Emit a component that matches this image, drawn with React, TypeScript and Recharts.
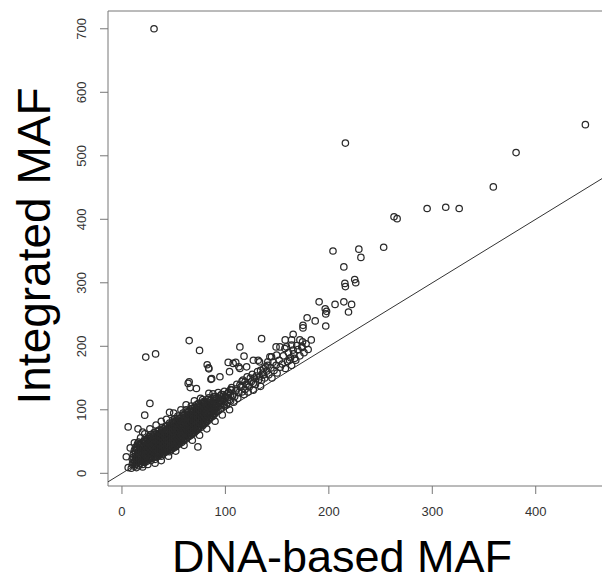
import { ScatterChart, Scatter, XAxis, YAxis, ReferenceLine, ReferenceArea, Label } from 'recharts';

// [DNA-based MAF, Integrated MAF]
const denseCore: [number, number][] = [
    [10, 14], [10, 22], [11, 30],
    [12, 11], [12, 19], [13, 27], [12, 36],
    [14, 15], [14, 22], [15, 29], [14, 38], [15, 46],
    [16, 12], [17, 19], [16, 26], [16, 33], [17, 41], [16, 49],
    [18, 16], [18, 24], [19, 30], [18, 37], [18, 44],
    [20, 14], [20, 21], [21, 28], [20, 35], [20, 42], [21, 50],
    [22, 17], [23, 25], [22, 31], [22, 38], [23, 45], [22, 53],
    [24, 19], [24, 27], [25, 34], [24, 40], [24, 47], [25, 55],
    [26, 22], [27, 29], [26, 36], [26, 43], [27, 50], [26, 58],
    [28, 20], [28, 27], [29, 33], [28, 39], [28, 46], [29, 53], [28, 61],
    [30, 24], [31, 30], [30, 37], [30, 43], [31, 50], [30, 57], [31, 64],
    [32, 22], [33, 29], [32, 35], [32, 42], [33, 48], [32, 55], [33, 62],
    [34, 26], [34, 33], [35, 39], [34, 45], [34, 52], [35, 59], [34, 66],
    [36, 28], [37, 35], [36, 41], [36, 47], [37, 54], [36, 61], [36, 68],
    [38, 27], [38, 33], [39, 40], [38, 46], [38, 52], [39, 58], [38, 65], [39, 72],
    [40, 31], [41, 37], [40, 44], [40, 50], [41, 56], [40, 63], [40, 70],
    [42, 33], [42, 39], [43, 46], [42, 52], [42, 58], [43, 65], [42, 73],
    [44, 35], [45, 42], [44, 48], [44, 54], [45, 60], [44, 67], [44, 75],
    [46, 34], [46, 41], [47, 47], [46, 53], [46, 59], [47, 66], [46, 72], [46, 79],
    [48, 38], [49, 44], [48, 50], [48, 56], [49, 63], [48, 69], [48, 76], [49, 84],
    [50, 40], [50, 46], [51, 52], [50, 58], [50, 64], [51, 71], [50, 78], [51, 86],
    [52, 42], [53, 48], [52, 55], [52, 61], [53, 67], [52, 74], [52, 81],
    [54, 45], [54, 51], [55, 57], [54, 63], [54, 70], [55, 77], [54, 84], [54, 90],
    [56, 47], [57, 53], [56, 59], [56, 66], [57, 72], [56, 79], [56, 86],
    [58, 49], [58, 55], [59, 62], [58, 68], [58, 74], [59, 81], [58, 88], [59, 95],
    [60, 52], [61, 58], [60, 64], [60, 70], [61, 77], [60, 84], [60, 91],
    [62, 54], [62, 60], [63, 66], [62, 73], [62, 79], [63, 86], [62, 93], [62, 100],
    [64, 57], [65, 63], [64, 69], [64, 75], [65, 82], [64, 89], [64, 96],
    [66, 59], [66, 65], [67, 72], [66, 78], [66, 85], [67, 92], [66, 99], [67, 106],
    [68, 62], [69, 68], [68, 74], [68, 81], [69, 88], [68, 95], [68, 102],
    [70, 64], [70, 71], [71, 77], [70, 84], [70, 90], [71, 97], [70, 104],
    [72, 67], [73, 73], [72, 80], [72, 86], [73, 93], [72, 100], [72, 108],
    [74, 70], [74, 76], [75, 83], [74, 89], [74, 96], [75, 103], [74, 110],
    [76, 72], [77, 79], [76, 85], [76, 92], [77, 99], [76, 106],
    [78, 75], [78, 82], [79, 88], [78, 95], [78, 102], [79, 109], [78, 116],
    [80, 78], [81, 84], [80, 91], [80, 98], [81, 105], [80, 112],
    [82, 81], [82, 88], [83, 94], [82, 101], [82, 108], [83, 116],
    [84, 84], [85, 91], [84, 98], [84, 104], [85, 111], [84, 119],
    [86, 88], [86, 95], [87, 101], [86, 108], [86, 115],
    [88, 90], [89, 97], [88, 104], [88, 111], [89, 118], [88, 125],
    [90, 94], [90, 101], [91, 107], [90, 114], [90, 121],
    [93, 98], [93, 105], [94, 112], [93, 119], [93, 127],
    [96, 103], [96, 110], [97, 117], [96, 124],
    [99, 106], [99, 113], [100, 121], [99, 129],
    [102, 111], [102, 119], [103, 127],
    [105, 114], [105, 123], [106, 131],
];

// second layer of the dense band, between the columns above
const denseCoreFill: [number, number][] = [
    [11, 17], [11, 25],
    [13, 14], [13, 23], [13, 32], [13, 41],
    [15, 18], [15, 26], [15, 34], [15, 42],
    [17, 15], [17, 23], [17, 30], [17, 37], [17, 46],
    [19, 19], [19, 27], [19, 34], [19, 41], [19, 48],
    [21, 18], [21, 25], [21, 32], [21, 39], [21, 46],
    [23, 21], [23, 29], [23, 35], [23, 42], [23, 50],
    [25, 23], [25, 30], [25, 38], [25, 44], [25, 51],
    [27, 25], [27, 33], [27, 40], [27, 47], [27, 55],
    [29, 24], [29, 30], [29, 37], [29, 43], [29, 50], [29, 57],
    [31, 27], [31, 34], [31, 40], [31, 46], [31, 54], [31, 60],
    [33, 26], [33, 32], [33, 39], [33, 45], [33, 52], [33, 58],
    [35, 30], [35, 36], [35, 43], [35, 49], [35, 56], [35, 62],
    [37, 31], [37, 38], [37, 44], [37, 51], [37, 57], [37, 64],
    [39, 30], [39, 36], [39, 43], [39, 49], [39, 55], [39, 62], [39, 68],
    [41, 34], [41, 41], [41, 47], [41, 53], [41, 60], [41, 66],
    [43, 36], [43, 42], [43, 49], [43, 55], [43, 62], [43, 69],
    [45, 38], [45, 45], [45, 51], [45, 57], [45, 64], [45, 71],
    [47, 37], [47, 44], [47, 50], [47, 56], [47, 62], [47, 69], [47, 76],
    [49, 41], [49, 47], [49, 53], [49, 60], [49, 66], [49, 73], [49, 80],
    [51, 43], [51, 49], [51, 55], [51, 61], [51, 68], [51, 75], [51, 82],
    [53, 45], [53, 51], [53, 58], [53, 64], [53, 71], [53, 78],
    [55, 48], [55, 54], [55, 60], [55, 67], [55, 73], [55, 81], [55, 87],
    [57, 50], [57, 56], [57, 62], [57, 69], [57, 76], [57, 83],
    [59, 52], [59, 58], [59, 65], [59, 71], [59, 78], [59, 85], [59, 92],
    [61, 55], [61, 61], [61, 67], [61, 74], [61, 81], [61, 88],
    [63, 57], [63, 63], [63, 70], [63, 76], [63, 83], [63, 90], [63, 97],
    [65, 60], [65, 66], [65, 72], [65, 79], [65, 86], [65, 93],
    [67, 62], [67, 69], [67, 75], [67, 82], [67, 89], [67, 96], [67, 102],
    [69, 65], [69, 72], [69, 78], [69, 85], [69, 92], [69, 99],
    [71, 68], [71, 74], [71, 81], [71, 87], [71, 94], [71, 101],
    [73, 70], [73, 77], [73, 84], [73, 90], [73, 97], [73, 104],
    [75, 74], [75, 80], [75, 86], [75, 93], [75, 100], [75, 107],
    [77, 76], [77, 83], [77, 89], [77, 96], [77, 103], [77, 110],
    [79, 79], [79, 85], [79, 92], [79, 99], [79, 106], [79, 113],
    [81, 82], [81, 88], [81, 95], [81, 102], [81, 109],
    [83, 85], [83, 91], [83, 98], [83, 105], [83, 112],
    [85, 87], [85, 94], [85, 101], [85, 108], [85, 115],
    [87, 91], [87, 98], [87, 105], [87, 112],
    [89, 93], [89, 100], [89, 107], [89, 114], [89, 121],
    [91, 97], [91, 104], [91, 111], [91, 118],
    [95, 101], [95, 108], [95, 115], [95, 122],
    [98, 108], [98, 116], [98, 124],
];

const coreFringe: [number, number][] = [
    [8, 40], [12, 48], [18, 56], [22, 62], [27, 70], [33, 76], [38, 82], [43, 85],
    [50, 95], [57, 100], [62, 108], [70, 114], [76, 118], [84, 126],
    [9, 8], [14, 9], [20, 10], [25, 14], [32, 16], [38, 20], [45, 27], [52, 35],
    [60, 44], [68, 52], [75, 60], [82, 70], [90, 82], [97, 92], [104, 100],
    [6, 73], [15.5, 70], [20, 65], [22, 91.5], [27, 110], [46, 96], [73.4, 41.5],
    [6, 9], [4.2, 26], [64, 141.5], [72, 133.6], [65, 144], [66, 135],
    [86, 148], [94.7, 152], [86.7, 149], [82.4, 171], [83.8, 166], [84, 164.5],
    [65, 209], [75, 193.5], [32.5, 188], [23, 183],
];

const transitionZone: [number, number][] = [
    [100, 120], [101, 108], [103, 128], [104, 116], [106, 135], [107, 122], [108, 112],
    [110, 130], [111, 140], [112, 118], [113, 127], [115, 136], [116, 145], [117, 147],
    [118, 124], [119, 132], [120, 140], [121, 152], [122, 128], [123, 136], [125, 144],
    [126, 156], [127, 131], [128, 150], [129, 140], [131, 160], [132, 147], [133, 152],
    [134, 137], [135, 146.7], [136, 158], [137, 165], [138, 150], [140, 161], [141, 170],
    [142, 155], [144, 166], [145, 150], [146, 175], [147, 162], [149, 170], [150, 158],
    [152, 178], [153, 167], [155, 172], [156, 185], [158, 165], [160, 176], [161, 190],
    [163, 182], [164, 170], [166, 188], [168, 178], [170, 195], [172, 185], [174, 200],
    [176, 190], [178, 204], [180, 195], [183, 210],
    [102.7, 174.6], [110, 174.6], [113, 167.7], [131.7, 178], [141, 175.5], [144.6, 183.5],
    [149.5, 186], [143, 183.5], [162, 178], [167, 181], [152.7, 199], [164, 202],
    [174.6, 207], [157.5, 196.6], [165.5, 194], [157.8, 210], [165.5, 219], [133, 175.5],
    [127, 178], [120.5, 167.7], [114, 165], [107.5, 173], [104, 160],
    [114, 199], [118, 184.5], [135, 212], [149, 199], [159, 199], [169, 201], [174, 198],
    [164, 210], [172, 210],
    [102, 125], [105, 132], [109, 121], [111, 133], [114, 139], [116, 128], [119, 144],
    [122, 139], [124, 150], [127, 142], [130, 153], [134, 162], [137, 155], [139, 168],
];

const upperPoints: [number, number][] = [
    [175, 233], [175, 229], [179, 245], [186.8, 240], [197, 232], [190.6, 270],
    [196.5, 259], [197.8, 255], [197, 251], [206, 266], [214.5, 270], [219, 254],
    [222, 266], [204, 350], [214.5, 325], [215.5, 299], [216, 294], [225, 305],
    [226, 300], [229, 353], [231, 340], [253, 356], [263, 404], [266, 401],
    [295, 417], [313, 419], [326, 417], [359, 451], [381, 505], [448, 549],
];

const outliers: [number, number][] = [
    [216, 520], [31, 700],
];

const xTicks = [0, 100, 200, 300, 400];
const yTicks = [0, 100, 200, 300, 400, 500, 600, 700];

const points = [...denseCore, ...denseCoreFill, ...coreFringe, ...transitionZone, ...upperPoints, ...outliers]
    .map(([dna, integrated]) => ({ dna, integrated }));

const font = '"Liberation Sans", Arial, Helvetica, sans-serif';

function XTick({ x, y, payload }: any) {
    return (
        <text x={x} y={y + 20} textAnchor="middle" fontSize={13} fill="#333" fontFamily={font}>
            {payload.value}
        </text>
    );
}

function YTick({ x, y, payload }: any) {
    const cx = x - 16;
    return (
        <text x={cx} y={y} textAnchor="middle" dominantBaseline="central" fontSize={13} fill="#333"
            fontFamily={font} transform={`rotate(-90, ${cx}, ${y})`}>
            {payload.value}
        </text>
    );
}

function Ring({ cx, cy }: any) {
    return <circle cx={cx} cy={cy} r={3.2} fill="none" stroke="#2a2a2a" strokeWidth={1.25} />;
}

export default function App() {
    return (
        <div style={{ position: 'fixed', left: 0, top: 0, width: 602, height: 583, overflow: 'hidden', background: '#fff' }}>
            <ScatterChart width={620} height={583} margin={{ top: 11, right: 16, left: 0, bottom: 0 }}>
                <XAxis
                    type="number"
                    dataKey="dna"
                    domain={[-13.5, 466]}
                    allowDataOverflow
                    ticks={xTicks}
                    height={97}
                    axisLine={false}
                    tickSize={8}
                    stroke="#777"
                    tick={<XTick />}
                >
                    <Label content={() => (
                        <text x={342} y={572} textAnchor="middle" fontSize={45} fill="#000" fontFamily={font}>
                            DNA-based MAF
                        </text>
                    )} />
                </XAxis>
                <YAxis
                    type="number"
                    dataKey="integrated"
                    domain={[-20, 728]}
                    allowDataOverflow
                    ticks={yTicks}
                    width={108}
                    axisLine={false}
                    tickSize={8}
                    stroke="#777"
                    tick={<YTick />}
                >
                    <Label content={() => (
                        <text x={50} y={246} textAnchor="middle" fontSize={46} fill="#000" fontFamily={font}
                            transform="rotate(-90, 50, 246)">
                            Integrated MAF
                        </text>
                    )} />
                </YAxis>
                <ReferenceArea x1={-13.5} x2={466} y1={-20} y2={728} fill="none" stroke="#777" strokeWidth={1} />
                <ReferenceLine
                    segment={[{ x: -13.5, y: -13.5 }, { x: 466, y: 466 }]}
                    stroke="#333"
                    strokeWidth={1}
                />
                <Scatter data={points} shape={<Ring />} isAnimationActive={false} />
            </ScatterChart>
        </div>
    );
}
